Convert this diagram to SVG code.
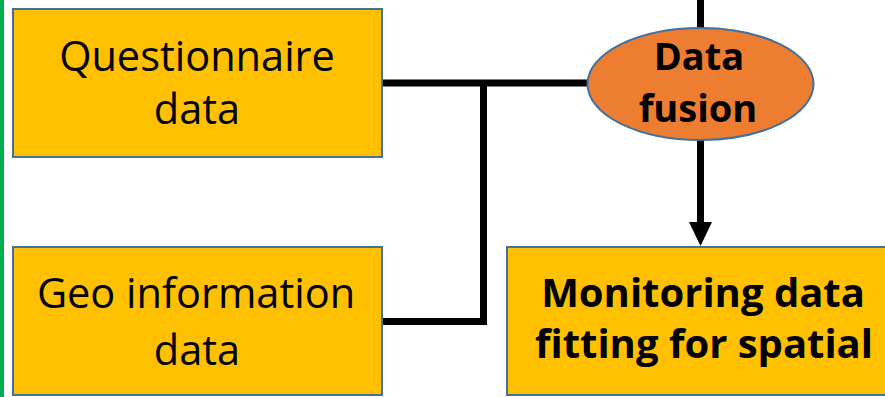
<svg xmlns="http://www.w3.org/2000/svg" width="885" height="397" viewBox="0 0 885 397">
  <style>
    .box { fill: #FFC000; stroke: #41719C; stroke-width: 2; }
    .oval { fill: #ED7D31; stroke: #41719C; stroke-width: 2; }
    .lbl { font-family: "Open Sans", "Liberation Sans", sans-serif; font-size: 41.5px; fill: #000; text-anchor: middle; }
    .bold { font-weight: bold; font-size: 40px; }
    .small { font-size: 38px; }
    .wire { fill: none; stroke: #000; stroke-width: 7; }
  </style>

  <rect width="885" height="397" fill="#fff"/>
  <!-- green margin rule -->
  <rect x="0" y="0" width="4" height="397" fill="#00B050"/>

  <g id="connectors">
    <path class="wire" d="M700.5,0 V30"/>
    <path class="wire" d="M383,83 H590"/>
    <path class="wire" d="M483.5,83 V321.5 H383"/>
    <path class="wire" d="M700.5,139 V224"/>
    <path d="M689,222 L712,222 L700.5,246 Z" fill="#000"/>
  </g>

  <g id="questionnaire">
    <rect class="box" x="13" y="9" width="369" height="148"/>
    <text class="lbl" x="197" y="71">Questionnaire</text>
    <text class="lbl" x="197" y="124">data</text>
  </g>

  <g id="geo">
    <rect class="box" x="13" y="247" width="369" height="148"/>
    <text class="lbl" x="196" y="308">Geo information</text>
    <text class="lbl" x="197" y="365">data</text>
  </g>

  <g id="fusion">
    <ellipse class="oval" cx="700.5" cy="84" rx="113" ry="56"/>
    <text class="lbl bold small" x="699" y="70">Data</text>
    <text class="lbl bold small" x="698" y="122">fusion</text>
  </g>

  <g id="monitoring">
    <rect class="box" x="507" y="247" width="390" height="148"/>
    <text class="lbl bold" x="703" y="307">Monitoring data</text>
    <text class="lbl bold" x="704" y="358">fitting for spatial</text>
  </g>
</svg>
